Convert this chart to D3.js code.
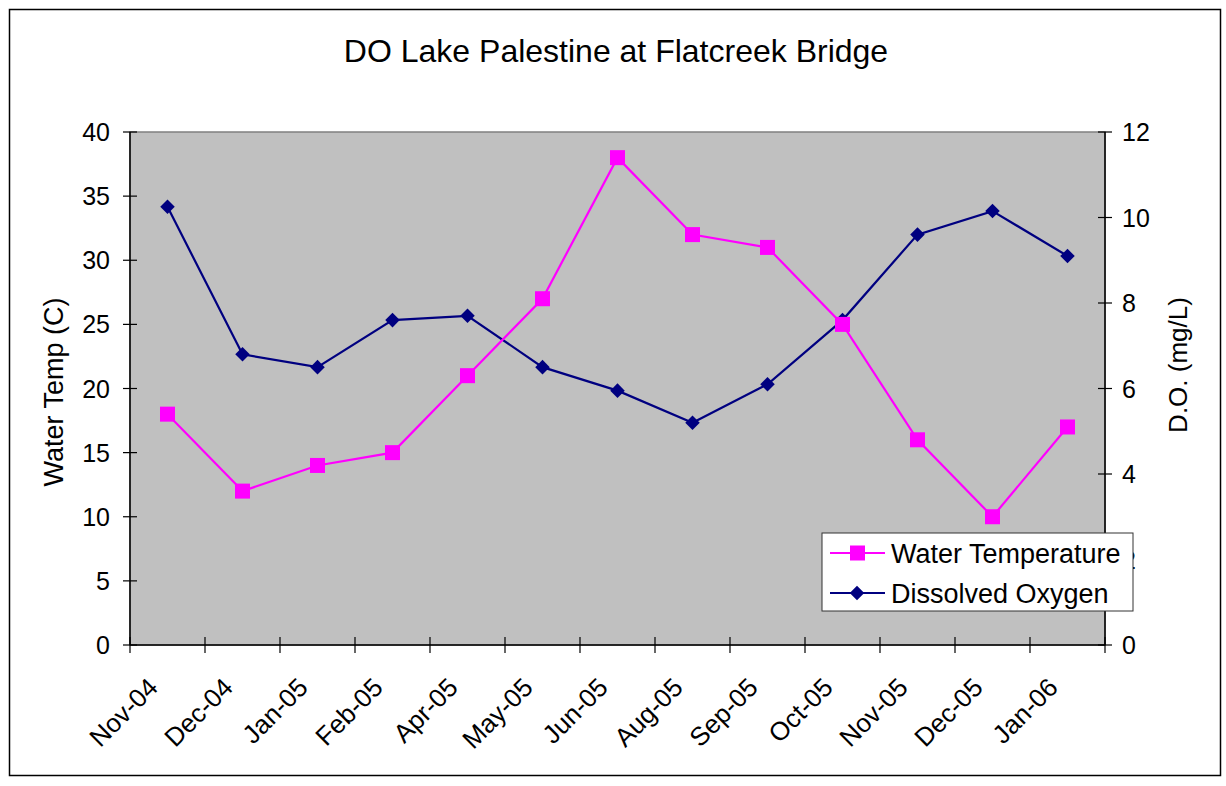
<!DOCTYPE html>
<html>
<head>
<meta charset="utf-8">
<script src="https://cdn.jsdelivr.net/npm/d3@7"></script>
<style>
  body { margin: 0; background: #fff; }
  text { font-family: "Liberation Sans", Arial, sans-serif; fill: #000; }
</style>
</head>
<body>
<svg id="chart" width="1226" height="786"></svg>
<script>
const months = ["Nov-04", "Dec-04", "Jan-05", "Feb-05", "Apr-05", "May-05", "Jun-05",
  "Aug-05", "Sep-05", "Oct-05", "Nov-05", "Dec-05", "Jan-06"];
const waterTemp = [18, 12, 14, 15, 21, 27, 38, 32, 31, 25, 16, 10, 17];
const dissolvedOxygen = [10.25, 6.8, 6.5, 7.6, 7.7, 6.5, 5.95, 5.2, 6.1, 7.6, 9.6, 10.15, 9.1];
const tempTicks = [0, 5, 10, 15, 20, 25, 30, 35, 40];
const doTicks = [0, 2, 4, 6, 8, 10, 12];

const svg = d3.select("#chart");
const plot = { left: 130, top: 132, right: 1105, bottom: 645 };

const x = d3.scaleBand().domain(months).range([plot.left, plot.right]);
const yTemp = d3.scaleLinear().domain([0, 40]).range([plot.bottom, plot.top]);
const yDO = d3.scaleLinear().domain([0, 12]).range([plot.bottom, plot.top]);
const cx = (d) => x(d) + x.bandwidth() / 2;

// outer frame
svg.append("rect")
  .attr("x", 9.5).attr("y", 9.5)
  .attr("width", 1211).attr("height", 766)
  .attr("fill", "#fff").attr("stroke", "#000").attr("stroke-width", 1.5);

// title
svg.append("text")
  .attr("x", 616).attr("y", 62)
  .attr("text-anchor", "middle")
  .style("font-size", "32px")
  .text("DO Lake Palestine at Flatcreek Bridge");

// plot area
svg.append("rect")
  .attr("x", plot.left).attr("y", plot.top)
  .attr("width", plot.right - plot.left).attr("height", plot.bottom - plot.top)
  .attr("fill", "#c0c0c0").attr("stroke", "#808080").attr("stroke-width", 1.5);

// left axis
const left = svg.append("g");
left.append("line")
  .attr("x1", plot.left).attr("x2", plot.left)
  .attr("y1", plot.top).attr("y2", plot.bottom)
  .attr("stroke", "#000").attr("stroke-width", 1.5);
left.selectAll(".tick")
  .data(tempTicks)
  .join("line")
  .attr("x1", plot.left - 7).attr("x2", plot.left + 7)
  .attr("y1", (d) => yTemp(d)).attr("y2", (d) => yTemp(d))
  .attr("stroke", "#000").attr("stroke-width", 1.2);
left.selectAll("text")
  .data(tempTicks)
  .join("text")
  .attr("x", plot.left - 20).attr("y", (d) => yTemp(d))
  .attr("dy", "0.36em")
  .attr("text-anchor", "end")
  .style("font-size", "25px")
  .text((d) => d);

// right axis
const right = svg.append("g");
right.append("line")
  .attr("x1", plot.right).attr("x2", plot.right)
  .attr("y1", plot.top).attr("y2", plot.bottom)
  .attr("stroke", "#000").attr("stroke-width", 1.5);
right.selectAll(".tick")
  .data(doTicks)
  .join("line")
  .attr("x1", plot.right - 7).attr("x2", plot.right + 7)
  .attr("y1", (d) => yDO(d)).attr("y2", (d) => yDO(d))
  .attr("stroke", "#000").attr("stroke-width", 1.2);
right.selectAll("text")
  .data(doTicks)
  .join("text")
  .attr("x", plot.right + 17).attr("y", (d) => yDO(d))
  .attr("dy", "0.36em")
  .style("font-size", "25px")
  .text((d) => d);

// bottom axis
const bottom = svg.append("g");
bottom.append("line")
  .attr("x1", plot.left).attr("x2", plot.right)
  .attr("y1", plot.bottom).attr("y2", plot.bottom)
  .attr("stroke", "#000").attr("stroke-width", 1.5);
const edges = months.map((m) => x(m)).concat([x.range()[1]]);
bottom.selectAll(".tick")
  .data(edges)
  .join("line")
  .attr("x1", (d) => d).attr("x2", (d) => d)
  .attr("y1", plot.bottom - 8).attr("y2", plot.bottom + 8)
  .attr("stroke", "#000").attr("stroke-width", 1.2);
bottom.selectAll("text")
  .data(months)
  .join("text")
  .attr("transform", (d) => `translate(${cx(d) - 8},${plot.bottom + 44}) rotate(-45)`)
  .attr("text-anchor", "end")
  .style("font-size", "26px")
  .text((d) => d);

// axis titles
svg.append("text")
  .attr("transform", "translate(63,392) rotate(-90)")
  .attr("text-anchor", "middle")
  .style("font-size", "27px")
  .text("Water Temp (C)");
svg.append("text")
  .attr("transform", "translate(1187,365) rotate(-90)")
  .attr("text-anchor", "middle")
  .style("font-size", "26px")
  .text("D.O. (mg/L)");

// series
const tempColor = "#ff00ff";
const doColor = "#000080";

const tempLine = d3.line().x((d, i) => cx(months[i])).y((d) => yTemp(d));
const doLine = d3.line().x((d, i) => cx(months[i])).y((d) => yDO(d));

svg.append("path")
  .datum(dissolvedOxygen)
  .attr("d", doLine)
  .attr("fill", "none").attr("stroke", doColor).attr("stroke-width", 2.2);
svg.append("g")
  .selectAll("path")
  .data(dissolvedOxygen)
  .join("path")
  .attr("d", d3.symbol(d3.symbolDiamond2, 135))
  .attr("transform", (d, i) => `translate(${cx(months[i])},${yDO(d)})`)
  .attr("fill", doColor);

svg.append("path")
  .datum(waterTemp)
  .attr("d", tempLine)
  .attr("fill", "none").attr("stroke", tempColor).attr("stroke-width", 2.2);
svg.append("g")
  .selectAll("rect")
  .data(waterTemp)
  .join("rect")
  .attr("x", (d, i) => cx(months[i]) - 7.5)
  .attr("y", (d) => yTemp(d) - 7.5)
  .attr("width", 15).attr("height", 15)
  .attr("fill", tempColor);

// legend
const legend = svg.append("g");
legend.append("rect")
  .attr("x", 822).attr("y", 533)
  .attr("width", 311).attr("height", 78)
  .attr("fill", "#fff").attr("stroke", "#333").attr("stroke-width", 1);
const legendItems = [
  { name: "Water Temperature", color: tempColor, shape: "square", y: 553 },
  { name: "Dissolved Oxygen", color: doColor, shape: "diamond", y: 593 }
];
legendItems.forEach((it) => {
  legend.append("line")
    .attr("x1", 830).attr("x2", 885)
    .attr("y1", it.y).attr("y2", it.y)
    .attr("stroke", it.color).attr("stroke-width", 2.2);
  if (it.shape === "square") {
    legend.append("rect")
      .attr("x", 850).attr("y", it.y - 7.5)
      .attr("width", 15).attr("height", 15)
      .attr("fill", it.color);
  } else {
    legend.append("path")
      .attr("d", d3.symbol(d3.symbolDiamond2, 135))
      .attr("transform", `translate(857,${it.y})`)
      .attr("fill", it.color);
  }
  legend.append("text")
    .attr("x", 891).attr("y", it.y)
    .attr("dy", "0.36em")
    .style("font-size", "27px")
    .text(it.name);
});
</script>
</body>
</html>
